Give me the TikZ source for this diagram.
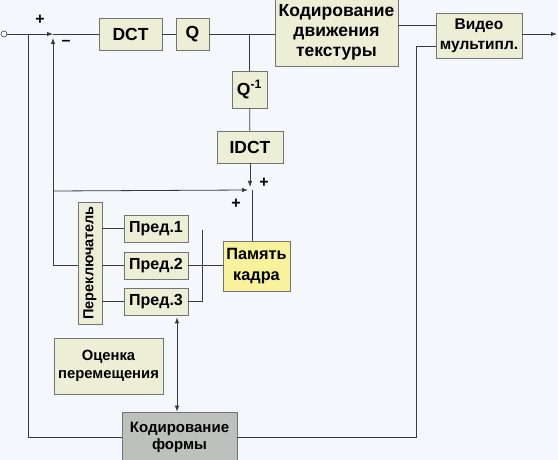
\documentclass[tikz,border=0pt]{standalone}
\usepackage{fontspec}
\setmainfont{Liberation Sans}
\usetikzlibrary{arrows.meta,calc}
\definecolor{bg}{HTML}{F4F7FB}
\definecolor{beige}{HTML}{ECEED6}
\definecolor{yel}{HTML}{F8F29C}
\definecolor{gry}{HTML}{BEC0BD}
\definecolor{ln}{HTML}{3A3A3A}
\begin{document}
\begin{tikzpicture}[x=1pt,y=-1pt,
  box/.style={draw=black!55,line width=0.7pt,fill=beige,inner sep=0pt,align=center,
    font=\fontsize{15.5}{20}\selectfont\bfseries},
  big/.style={font=\fontsize{17.5}{20}\selectfont\bfseries},
  mid/.style={font=\fontsize{16}{19}\selectfont\bfseries},
  conn/.style={draw=ln,line width=0.8pt},
  arr/.style={conn,-{Latex[length=6pt,width=4.5pt]}},
  darr/.style={conn,{Latex[length=6pt,width=4.5pt]}-{Latex[length=6pt,width=4.5pt]}},
  sign/.style={font=\fontsize{16}{16}\selectfont\bfseries,inner sep=0pt}]
\fill[bg] (0,0) rectangle (558,460);
\useasboundingbox (0,0) rectangle (558,460);

% nodes
\node[circle,draw=ln,fill=white,minimum size=6pt,inner sep=0pt,line width=0.6pt] (in) at (4,34) {};
\node[box,big,minimum width=63pt,minimum height=32pt] (dct) at (130.5,34) {DCT};
\node[box,big,minimum width=33pt,minimum height=32pt] (q) at (192.5,34) {Q};
\node[box,big,minimum width=123pt,minimum height=67pt] (kdt) at (336.5,32.5) {Кодирование\\движения\\текстуры};
\node[box,minimum width=86pt,minimum height=45pt] (vid) at (479,35.5) {Видео\\мультипл.};
\node[box,big,minimum width=35pt,minimum height=37pt] (qi) at (249.5,89.5) {Q\textsuperscript{-1}};
\node[box,big,minimum width=66pt,minimum height=32pt] (idct) at (250,147) {IDCT};
\node[box,fill=yel,minimum width=67pt,minimum height=50pt,font=\fontsize{16.3}{21}\selectfont\bfseries] (mem) at (256.5,266) {Память\\кадра};
\node[box,minimum width=24pt,minimum height=122pt,font=\fontsize{14.5}{16}\selectfont\bfseries] (sw) at (90,263) {\rotatebox{90}{Переключатель}};
\node[box,mid,minimum width=64pt,minimum height=27pt] (p1) at (156,228.5) {Пред.1};
\node[box,mid,minimum width=64pt,minimum height=27pt] (p2) at (156,265.5) {Пред.2};
\node[box,mid,minimum width=64pt,minimum height=27pt] (p3) at (156,301.5) {Пред.3};
\node[box,minimum width=109pt,minimum height=56pt,font=\fontsize{14.8}{18.5}\selectfont\bfseries] (oc) at (108.5,366) {Оценка\\перемещения};
\node[box,fill=gry,minimum width=115pt,minimum height=50pt,font=\fontsize{15}{17}\selectfont\bfseries] (kf) at (179.5,437) {Кодирование\\формы};

% coordinates
\coordinate (s1) at (53,34);
\coordinate (s2) at (250,190);
\coordinate (br) at (28,34);
\coordinate (b2) at (53,191);
\coordinate (bk) at (202,230);
\coordinate (out) at (557,34);
\coordinate (vr) at (416,46);
\coordinate (da) at (177,0);

% connectors
\draw[arr] (in) -- (s1);
\draw[conn] (s1) -- (dct.west);
\draw[conn] (dct) -- (q);
\draw[conn] (q.east) -- (q.east -| kdt.west);
\draw[conn] (qi.north |- q.east) -- (qi.north);
\draw[conn] (qi) -- (idct);
\draw[arr] (idct.south) -- ($(s2)+(0,-3)$);
\draw[arr] (sw.west |- p2.west) -| ($(s1)+(0,4)$);
\draw[arr] (b2) -- ($(s2)+(-2,0)$);
\draw[conn] ($(s2)+(2,0)$) -- ($(s2 |- mem.north)+(2,0)$);
\draw[conn] (sw.east |- p1.west) -- (p1.west);
\draw[conn] (sw.east |- p2.west) -- (p2.west);
\draw[conn] (sw.east |- p3.west) -- (p3.west);
\draw[conn] (p2.east) -- (p2.east -| mem.west);
\draw[conn] (p3.east) -| (bk);
\draw[conn] ($(kdt.east)+(0,-7.5)$) -- ($(vid.west)+(0,-10.5)$);
\draw[arr] (vid.east |- out) -- (out);
\draw[conn] (br) |- (kf.west);
\draw[conn] (kf.east) -| (vr) -- (vr -| vid.west);
\draw[darr] ($(p3.south -| da)+(0,2)$) -- (kf.north -| da);

% signs
\node[sign] at (40,20) {+};
\node[sign] at (66,43) {--};
\node[sign] at (264,183) {+};
\node[sign] at (236,204) {+};
\end{tikzpicture}
\end{document}
